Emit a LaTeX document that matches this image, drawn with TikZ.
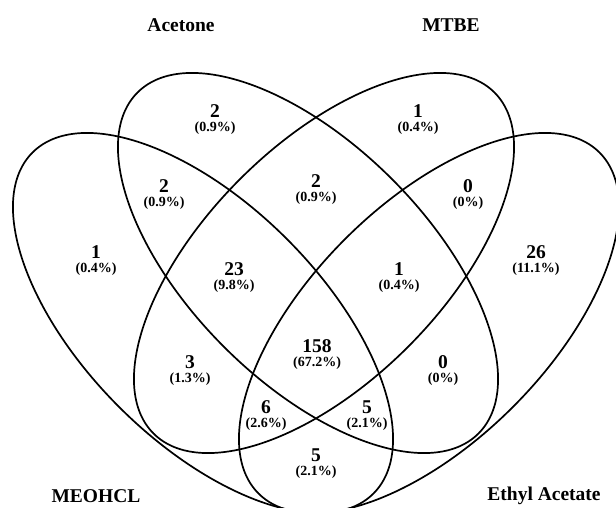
\documentclass[tikz,border=0pt]{standalone}
\usepackage{fontspec}
\setmainfont{Liberation Serif}
\newcommand\vlab[5]{%
  \node[num] (#1) at (#2,-#3+1) {#4};
  \node[pct] (#1p) at (#2,-#3-16.5) {(#5\%)};}
\begin{document}
\begin{tikzpicture}[x=1pt,y=1pt,
  venn/.style={line width=1.7pt},
  num/.style={font=\bfseries\fontsize{19.5}{19.5}\selectfont, inner sep=0pt},
  pct/.style={font=\bfseries\fontsize{14}{14}\selectfont, inner sep=0pt},
  title/.style={font=\bfseries\fontsize{19.5}{19.5}\selectfont, inner sep=0pt}]
\useasboundingbox (0,0) rectangle (616,-508);
\clip (0,0) rectangle (616,-508);
% ellipses
\draw[venn, rotate around={-45:(203,-323)}] (203,-323) ellipse [x radius=241.1, y radius=118.7]; % MEOHCL
\draw[venn, rotate around={-45:(308,-263)}] (308,-263) ellipse [x radius=241.1, y radius=118.7]; % Acetone
\draw[venn, rotate around={45:(324,-263)}] (324,-263) ellipse [x radius=241.1, y radius=118.7]; % MTBE
\draw[venn, rotate around={45:(429,-323)}] (429,-323) ellipse [x radius=241.1, y radius=118.7]; % Ethyl Acetate
% titles
\node[title] (tA) at (181,-25) {Acetone};
\node[title] (tM) at (451,-25) {MTBE};
\node[title] (tH) at (96,-496) {MEOHCL};
\node[title] (tE) at (544,-496) {Ethyl Acetate};
% region labels
\vlab{r1}{215}{112}{2}{0.9}
\vlab{r2}{418}{112}{1}{0.4}
\vlab{r3}{164}{187}{2}{0.9}
\vlab{r4}{316}{182}{2}{0.9}
\vlab{r5}{468}{187}{0}{0}
\vlab{r6}{96}{253}{1}{0.4}
\vlab{r7}{234}{270}{23}{9.8}
\vlab{r8}{399}{270}{1}{0.4}
\vlab{r9}{536}{253}{26}{11.1}
\vlab{r10}{317}{347}{158}{67.2}
\vlab{r11}{190}{363}{3}{1.3}
\vlab{r12}{443}{363}{0}{0}
\vlab{r13}{266}{408}{6}{2.6}
\vlab{r14}{367}{408}{5}{2.1}
\vlab{r15}{316}{456}{5}{2.1}
\end{tikzpicture}
\end{document}
